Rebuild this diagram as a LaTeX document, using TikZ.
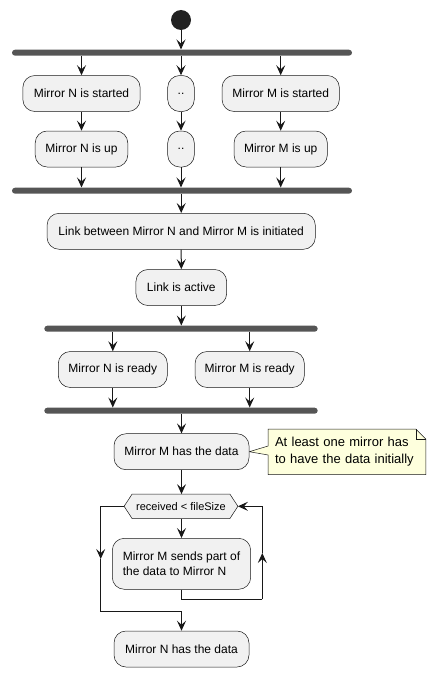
\documentclass[tikz,border=0pt]{standalone}
\usepackage{fontspec}
\setmainfont{Liberation Sans}
\usetikzlibrary{arrows.meta,backgrounds,calc}
\definecolor{boxfill}{HTML}{F1F1F1}
\definecolor{ink}{HTML}{181818}
\definecolor{barc}{HTML}{555555}
\definecolor{startc}{HTML}{222222}
\definecolor{notefill}{HTML}{FEFFDD}
\begin{document}
\begin{tikzpicture}[x=1pt,y=-1pt,
  act/.style={draw=ink, line width=0.5pt, fill=boxfill, rounded corners=12pt,
    minimum height=36pt, inner sep=0pt, align=center,
    font=\fontsize{12}{15.5}\selectfont},
  forkbar/.style={fill=barc, rounded corners=3pt, minimum height=6pt, inner sep=0pt},
  arr/.style={draw=ink, line width=1pt, -{Stealth[length=10pt,width=9pt,inset=4pt]}},
  ln/.style={draw=ink, line width=1pt},
  hexbox/.style={minimum width=113.4pt, minimum height=24pt, inner sep=0pt,
    font=\fontsize{11}{13}\selectfont},
  notetext/.style={minimum height=45pt, inner xsep=6.7pt, inner ysep=0pt,
    text width=144pt, align=left, font=\fontsize{13}{16.7}\selectfont},
  shapeline/.style={draw=ink, line width=0.5pt}]
\useasboundingbox (0,0) rectangle (436,677);

% nodes
\node[circle, fill=startc, minimum size=20pt, inner sep=0pt] (start) at (181,20) {};
\node[forkbar, minimum width=340pt] (b1) at (182,52.7) {};
\node[act, minimum width=117.3pt] (n1) at (81.5,93.5) {Mirror N is started};
\node[act, minimum width=26.6pt] (d1) at (181,93.5) {..};
\node[act, minimum width=117.3pt] (m1) at (280.7,93.5) {Mirror M is started};
\node[act, minimum width=92.6pt] (n2) at (81.5,149) {Mirror N is up};
\node[act, minimum width=26.6pt] (d2) at (181,149) {..};
\node[act, minimum width=93.3pt] (m2) at (280.7,149) {Mirror M is up};
\node[forkbar, minimum width=340pt] (b2) at (182,190.7) {};
\node[act, minimum width=268.3pt] (link) at (181.2,231.3) {Link between Mirror N and Mirror M is initiated};
\node[act, minimum width=90.7pt] (active) at (181.3,287.5) {Link is active};
\node[forkbar, minimum width=273.4pt] (b3) at (181,328.7) {};
\node[act, minimum width=109pt] (rn) at (112.8,369.5) {Mirror N is ready};
\node[act, minimum width=109.3pt] (rm) at (249.7,369.5) {Mirror M is ready};
\node[forkbar, minimum width=273.4pt] (b4) at (181,410.7) {};
\node[act, minimum width=135pt] (mhas) at (181.5,451.7) {Mirror M has the data};
\node[notetext] (note) at (347,451.8) {At least one mirror has\\to have the data initially};
\node[hexbox] (hex) at (181,506.3) {received < fileSize};
\node[act, minimum width=138.4pt, minimum height=51pt, align=left] (sends) at (181.5,563.8) {Mirror M sends part of\\the data to Mirror N};
\node[act, minimum width=135pt] (nhas) at (181.5,649) {Mirror N has the data};

% shapes drawn behind text
\begin{scope}[on background layer]
\path[shapeline, fill=boxfill] (hex.west) -- ($(hex.north west)+(8,0)$) -- ($(hex.north east)+(-8,0)$)
  -- (hex.east) -- ($(hex.south east)+(-8,0)$) -- ($(hex.south west)+(8,0)$) -- cycle;
\path[shapeline, fill=notefill] (note.north west) -- ($(note.north east)+(-10,0)$)
  -- ($(note.north east)+(0,10)$) -- (note.south east) -- (note.south west)
  -- ($(note.west)+(0,3.2)$) -- (mhas.east) -- ($(note.west)+(0,-5.8)$) -- cycle;
\path[shapeline] ($(note.north east)+(-10,0)$) -- ($(note.north east)+(-10,10)$) -- ($(note.north east)+(0,10)$);
\end{scope}

% loop coordinates
\coordinate (lm) at (100.7,559);
\coordinate (lb) at (100.7,611.7);
\coordinate (rb) at (262.3,599.3);
\coordinate (rmid) at (262.3,553);

% connectors
\draw[arr] (start.south) -- (start.south |- b1.north);
\draw[arr] (b1.south -| n1.north) -- (n1.north);
\draw[arr] (b1.south -| d1.north) -- (d1.north);
\draw[arr] (b1.south -| m1.north) -- (m1.north);
\draw[arr] (n1.south) -- (n2.north);
\draw[arr] (d1.south) -- (d2.north);
\draw[arr] (m1.south) -- (m2.north);
\draw[arr] (n2.south) -- (n2.south |- b2.north);
\draw[arr] (d2.south) -- (d2.south |- b2.north);
\draw[arr] (m2.south) -- (m2.south |- b2.north);
\draw[arr] (b2.south -| link.north) -- (link.north);
\draw[arr] (link.south) -- (active.north);
\draw[arr] (active.south) -- (active.south |- b3.north);
\draw[arr] (b3.south -| rn.north) -- (rn.north);
\draw[arr] (b3.south -| rm.north) -- (rm.north);
\draw[arr] (rn.south) -- (rn.south |- b4.north);
\draw[arr] (rm.south) -- (rm.south |- b4.north);
\draw[arr] (b4.south -| mhas.north) -- (mhas.north);
\draw[arr] (mhas.south) -- (hex.north -| mhas.south);
\draw[arr] (hex.south -| sends.north) -- (sends.north);
% exit branch
\draw[arr] (hex.west) -| (lm);
\draw[arr] (lm) -- (lb) -| (nhas.north);
% back loop
\draw[ln] (sends.south) |- (rb);
\draw[arr] (rb) -- (rmid);
\draw[arr] (rmid) |- (hex.east);
\end{tikzpicture}
\end{document}
